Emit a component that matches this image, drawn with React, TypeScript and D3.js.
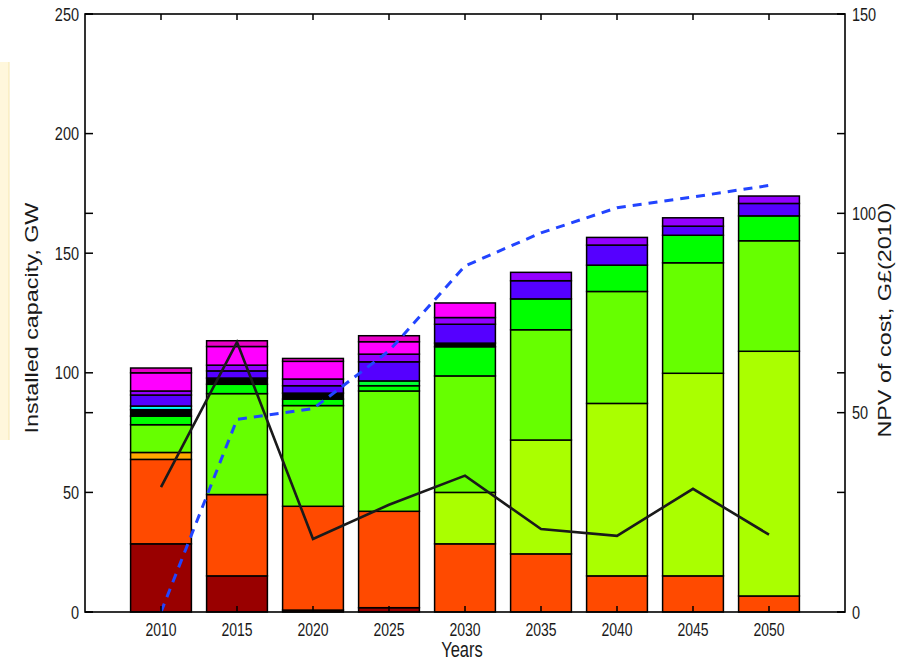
import React from 'react';
import * as d3 from 'd3';

// years on the x axis
const years = [2010, 2015, 2020, 2025, 2030, 2035, 2040, 2045, 2050];

// installed capacity, GW (segment heights, bottom to top)
const darkRed = [28.5, 15.1, 0.8, 1.8, 0, 0, 0, 0, 0];
const orangeRed = [35.3, 34.0, 43.4, 40.3, 28.5, 24.3, 15.1, 15.1, 6.7];
const orange = [2.9, 0, 0, 0, 0, 0, 0, 0, 0];
const yellowGreen = [0, 0, 0, 0, 21.5, 47.6, 72.1, 84.7, 102.3];
const lime = [11.6, 42.2, 42.1, 50.3, 48.7, 46.1, 46.8, 46.2, 46.2];
const green = [3.6, 3.9, 2.7, 2.2, 12.2, 12.9, 11.0, 11.5, 10.4];
const green2 = [0, 0, 0, 2.0, 0, 0, 0, 0, 0];
const black = [2.7, 2.6, 2.5, 0, 1.5, 0, 0, 0, 0];
const cyan = [1.5, 0, 0, 0, 0, 0, 0, 0, 0];
const blue = [4.6, 3.0, 3.1, 8.0, 7.9, 7.6, 8.4, 3.8, 5.2];
const purple = [1.7, 2.4, 2.8, 3.2, 2.8, 3.5, 3.2, 3.5, 3.1];
const magenta = [7.6, 7.8, 7.4, 5.2, 6.1, 0, 0, 0, 0];
const pink = [2.0, 2.4, 1.2, 2.5, 0, 0, 0, 0, 0];

// NPV of cost, G£(2010) (right axis)
const npvCumulative = [0, 48.3, 51.0, 65.5, 86.8, 95.1, 101.4, 104.1, 107.0];
const npvPeriod = [31.3, 67.7, 18.3, 26.9, 34.2, 20.8, 19.1, 30.9, 19.4];

const leftTicks = [0, 50, 100, 150, 200, 250];
const rightTicks = [0, 50, 100, 150];

const series = [
  { key: 'darkRed', values: darkRed, color: '#990000' },
  { key: 'orangeRed', values: orangeRed, color: '#FF4A00' },
  { key: 'orange', values: orange, color: '#FFA800' },
  { key: 'yellowGreen', values: yellowGreen, color: '#AAFF00' },
  { key: 'lime', values: lime, color: '#66FF00' },
  { key: 'green', values: green, color: '#00FF00' },
  { key: 'green2', values: green2, color: '#00FF33' },
  { key: 'black', values: black, color: '#000000' },
  { key: 'cyan', values: cyan, color: '#00FFFF' },
  { key: 'blue', values: blue, color: '#5500FF' },
  { key: 'purple', values: purple, color: '#9400FF' },
  { key: 'magenta', values: magenta, color: '#FF00FF' },
  { key: 'pink', values: pink, color: '#E800C8' },
];

const W = 907;
const H = 660;
const left = 85;
const right = 845;
const top = 14;
const bottom = 612;
const font = '"Liberation Sans", Arial, Helvetica, sans-serif';
const stretch = 1.3;

const App = () => {
  const x = d3.scaleLinear().domain([2005, 2055]).range([left, right]);
  const yL = d3.scaleLinear().domain([0, 250]).range([bottom, top]);
  const yR = d3.scaleLinear().domain([0, 150]).range([bottom, top]);
  const barW = (x(2010) - x(2005)) * 0.8;

  const table = years.map((yr, i) => {
    const row: any = { year: yr };
    series.forEach(s => { row[s.key] = s.values[i]; });
    return row;
  });
  const stacked = d3.stack().keys(series.map(s => s.key))(table);

  const line = d3.line<number>()
    .x((d, i) => x(years[i]))
    .y(d => yR(d));

  const label = (tx: number, ty: number, txt: string, size: number, anchor: string, rot = 0, dy = '0.35em') => (
    <text
      transform={`translate(${tx},${ty}) scale(1,${stretch})${rot ? ` rotate(${rot})` : ''}`}
      textAnchor={anchor}
      dy={dy}
      fontSize={size}
      fontFamily={font}
      fill="#1a1a1a"
    >
      {txt}
    </text>
  );

  return (
    <svg width={W} height={H} style={{ position: 'absolute', left: 0, top: 0, background: '#fff' }}>
      {/* faint page edge on the left */}
      <rect x={0} y={62} width={9} height={378} fill="#FFF7DC" />
      <line x1={9} x2={9} y1={62} y2={440} stroke="#F5E6B0" strokeWidth={1} />

      {/* stacked bars */}
      {stacked.map((layer, li) => (
        <g key={layer.key} fill={series[li].color}>
          {layer.map((d, i) => {
            const h = yL(d[0]) - yL(d[1]);
            if (h <= 0) return null;
            return (
              <rect
                key={i}
                x={x(years[i]) - barW / 2}
                y={yL(d[1])}
                width={barW}
                height={h}
                stroke="#000"
                strokeWidth={1.5}
              />
            );
          })}
        </g>
      ))}

      {/* cost lines */}
      <path d={line(npvPeriod) || ''} fill="none" stroke="#1a1a1a" strokeWidth={2.6} />
      <path d={line(npvCumulative) || ''} fill="none" stroke="#2244FF" strokeWidth={3} strokeDasharray="9 7" />

      {/* frame */}
      <rect x={left} y={top} width={right - left} height={bottom - top} fill="none" stroke="#000" strokeWidth={1.6} />

      {/* left axis ticks + inner ticks of the right axis */}
      {leftTicks.map(t => (
        <g key={'l' + t}>
          <line x1={left} x2={left + 8} y1={yL(t)} y2={yL(t)} stroke="#000" strokeWidth={1.5} />
          <line x1={right} x2={right - 8} y1={yL(t)} y2={yL(t)} stroke="#000" strokeWidth={1.5} />
          {label(left - 6, yL(t), String(t), 14.5, 'end')}
        </g>
      ))}
      {rightTicks.map(t => (
        <g key={'r' + t}>
          <line x1={right} x2={right - 8} y1={yR(t)} y2={yR(t)} stroke="#000" strokeWidth={1.5} />
          <line x1={left} x2={left + 8} y1={yR(t)} y2={yR(t)} stroke="#000" strokeWidth={1.5} />
          {label(right + 7, yR(t), String(t), 14.5, 'start')}
        </g>
      ))}

      {/* x ticks */}
      {years.map(yr => (
        <g key={'x' + yr}>
          <line x1={x(yr)} x2={x(yr)} y1={bottom} y2={bottom - 6} stroke="#000" strokeWidth={1.5} />
          <line x1={x(yr)} x2={x(yr)} y1={top} y2={top + 6} stroke="#000" strokeWidth={1.5} />
          {label(x(yr), 630, String(yr), 14, 'middle')}
        </g>
      ))}

      {/* axis titles */}
      {label(462, 657, 'Years', 16.5, 'middle', 0, '0')}
      {label(32, 318, 'Installed capacity, GW', 18, 'middle', -90)}
      {label(885, 320, 'NPV of cost, G£(2010)', 18, 'middle', -90)}
    </svg>
  );
};

export default App;
